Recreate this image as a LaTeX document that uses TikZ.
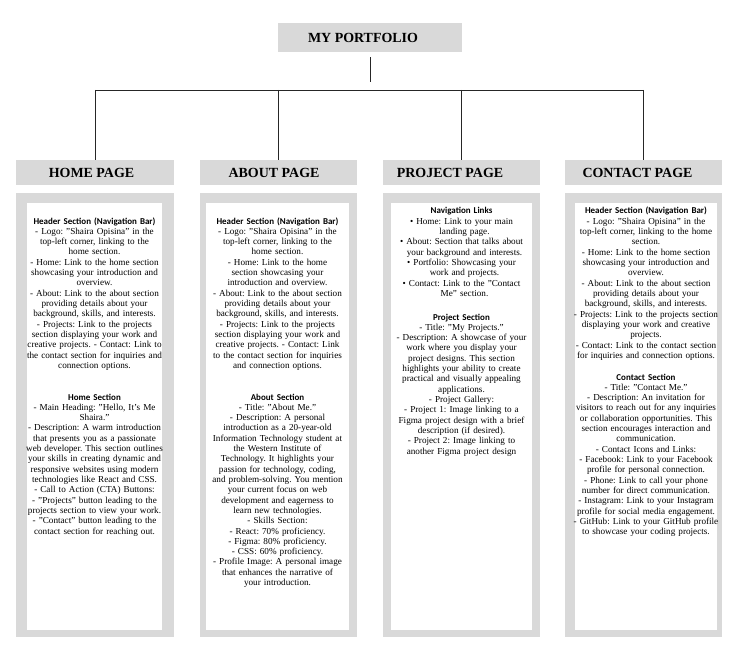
\documentclass[tikz,border=0pt]{standalone}
\usepackage{fontspec}
\setmainfont{Liberation Serif}
\newfontfamily\headfont{Carlito}
\definecolor{boxgray}{HTML}{D9D9D9}
\definecolor{linegray}{HTML}{262626}
\begin{document}
\frenchspacing
\begin{tikzpicture}[x=1bp,y=-1bp,
  titlebox/.style={fill=boxgray, minimum width=184bp, minimum height=29bp, inner sep=0pt,
    font=\bfseries\fontsize{14}{16}\selectfont},
  hdrbox/.style={fill=boxgray, minimum width=158bp, minimum height=25bp, inner sep=0pt,
    font=\bfseries\fontsize{14}{16}\selectfont},
  conn/.style={draw=linegray, line width=0.75bp},
  bodytext/.style={anchor=base, align=center, text width=150bp, inner sep=0pt,
    font=\frenchspacing\fontsize{9.2}{10.35}\selectfont},
]
\useasboundingbox (0,0) rectangle (735,646);
\newcommand{\sechead}[1]{{\headfont\bfseries\fontsize{9}{10.35}\selectfont #1}}

% title and headers
\node[titlebox] (title) at (370,37.5) {MY PORTFOLIO\kern14bp};
\node[hdrbox] (home) at (95,172.5) {HOME PAGE\kern7bp};
\node[hdrbox, minimum width=157bp] (about) at (278.5,172.5) {ABOUT PAGE\kern9bp};
\node[hdrbox, minimum width=157bp] (project) at (461.5,172.5) {PROJECT PAGE\kern23bp};
\node[hdrbox, minimum width=157bp] (contact) at (643.5,172.5) {CONTACT PAGE\kern12bp};

% connectors
\coordinate (stemend) at (370,82);
\coordinate (bus) at (370,90);
\draw[conn] ([yshift=-5bp]title.south) -- (stemend);
\draw[conn] (home.north |- bus) -- (contact.north |- bus);
\draw[conn] (home.north |- bus) -- (home.north);
\draw[conn] (about.north |- bus) -- (about.north);
\draw[conn] (project.north |- bus) -- (project.north);
\draw[conn] (contact.north |- bus) -- (contact.north);

% content panels
\fill[boxgray] (16,193) rectangle (174,637);
\fill[white] (27,203) rectangle (162,630);
\fill[boxgray] (200,193) rectangle (357,637);
\fill[white] (206,203) rectangle (349,630);
\fill[boxgray] (383,193) rectangle (540,637);
\fill[white] (391,203) rectangle (532,630);
\fill[boxgray] (565,193) rectangle (722,637);
\fill[white] (575,203) rectangle (717,630);

% HOME
\node[bodytext] (homehdr) at (94.5,224) {\sechead{Header Section (Navigation Bar)}\\
- Logo: "Shaira Opisina" in the\\
top-left corner, linking to the\\
home section.\\
- Home: Link to the home section\\
showcasing your introduction and\\
overview.\\
- About: Link to the about section\\
providing details about your\\
background, skills, and interests.\\
- Projects: Link to the projects\\
section displaying your work and\\
creative projects. - Contact: Link to\\
the contact section for inquiries and\\
connection options.};
\node[bodytext] (homesec) at (94.5,400) {\sechead{Home Section}\\
- Main Heading: "Hello, It's Me\\
Shaira."\\
- Description: A warm introduction\\
that presents you as a passionate\\
web developer. This section outlines\\
your skills in creating dynamic and\\
responsive websites using modern\\
technologies like React and CSS.\\
- Call to Action (CTA) Buttons:\\
- "Projects" button leading to the\\
projects section to view your work.\\
- "Contact" button leading to the\\
contact section for reaching out.};

% ABOUT
\node[bodytext] (abouthdr) at (277.5,224) {\sechead{Header Section (Navigation Bar)}\\
- Logo: "Shaira Opisina" in the\\
top-left corner, linking to the\\
home section.\\
- Home: Link to the home\\
section showcasing your\\
introduction and overview.\\
- About: Link to the about section\\
providing details about your\\
background, skills, and interests.\\
- Projects: Link to the projects\\
section displaying your work and\\
creative projects. - Contact: Link\\
to the contact section for inquiries\\
and connection options.};
\node[bodytext] (aboutsec) at (277.5,400) {\sechead{About Section}\\
- Title: "About Me."\\
- Description: A personal\\
introduction as a 20-year-old\\
Information Technology student at\\
the Western Institute of\\
Technology. It highlights your\\
passion for technology, coding,\\
and problem-solving. You mention\\
your current focus on web\\
development and eagerness to\\
learn new technologies.\\
- Skills Section:\\
- React: 70\% proficiency.\\
- Figma: 80\% proficiency.\\
- CSS: 60\% proficiency.\\
- Profile Image: A personal image\\
that enhances the narrative of\\
your introduction.};

% PROJECT
\node[bodytext] (projnav) at (461.5,214) {\sechead{Navigation Links}\\
• Home: Link to your main\\
\hspace*{6bp}landing page.\\
• About: Section that talks about\\
\hspace*{6bp}your background and interests.\\
• Portfolio: Showcasing your\\
\hspace*{6bp}work and projects.\\
• Contact: Link to the "Contact\\
\hspace*{6bp}Me" section.};
\node[bodytext] (projsec) at (461.5,320) {\sechead{Project Section}\\
- Title: "My Projects."\\
- Description: A showcase of your\\
work where you display your\\
project designs. This section\\
highlights your ability to create\\
practical and visually appealing\\
applications.\\
- Project Gallery:\\
- Project 1: Image linking to a\\
Figma project design with a brief\\
description (if desired).\\
- Project 2: Image linking to\\
another Figma project design};

% CONTACT
\node[bodytext] (conthdr) at (646,214) {\sechead{Header Section (Navigation Bar)}\\
- Logo: "Shaira Opisina" in the\\
top-left corner, linking to the home\\
section.\\
- Home: Link to the home section\\
showcasing your introduction and\\
overview.\\
- About: Link to the about section\\
providing details about your\\
background, skills, and interests.\\
- Projects: Link to the projects section\\
displaying your work and creative\\
projects.\\
- Contact: Link to the contact section\\
for inquiries and connection options.};
\node[bodytext] (contsec) at (646,380) {\sechead{Contact Section}\\
- Title: "Contact Me."\\
- Description: An invitation for\\
visitors to reach out for any inquiries\\
or collaboration opportunities. This\\
section encourages interaction and\\
communication.\\
- Contact Icons and Links:\\
- Facebook: Link to your Facebook\\
profile for personal connection.\\
- Phone: Link to call your phone\\
number for direct communication.\\
- Instagram: Link to your Instagram\\
profile for social media engagement.\\
- GitHub: Link to your GitHub profile\\
to showcase your coding projects.};
\end{tikzpicture}
\end{document}
